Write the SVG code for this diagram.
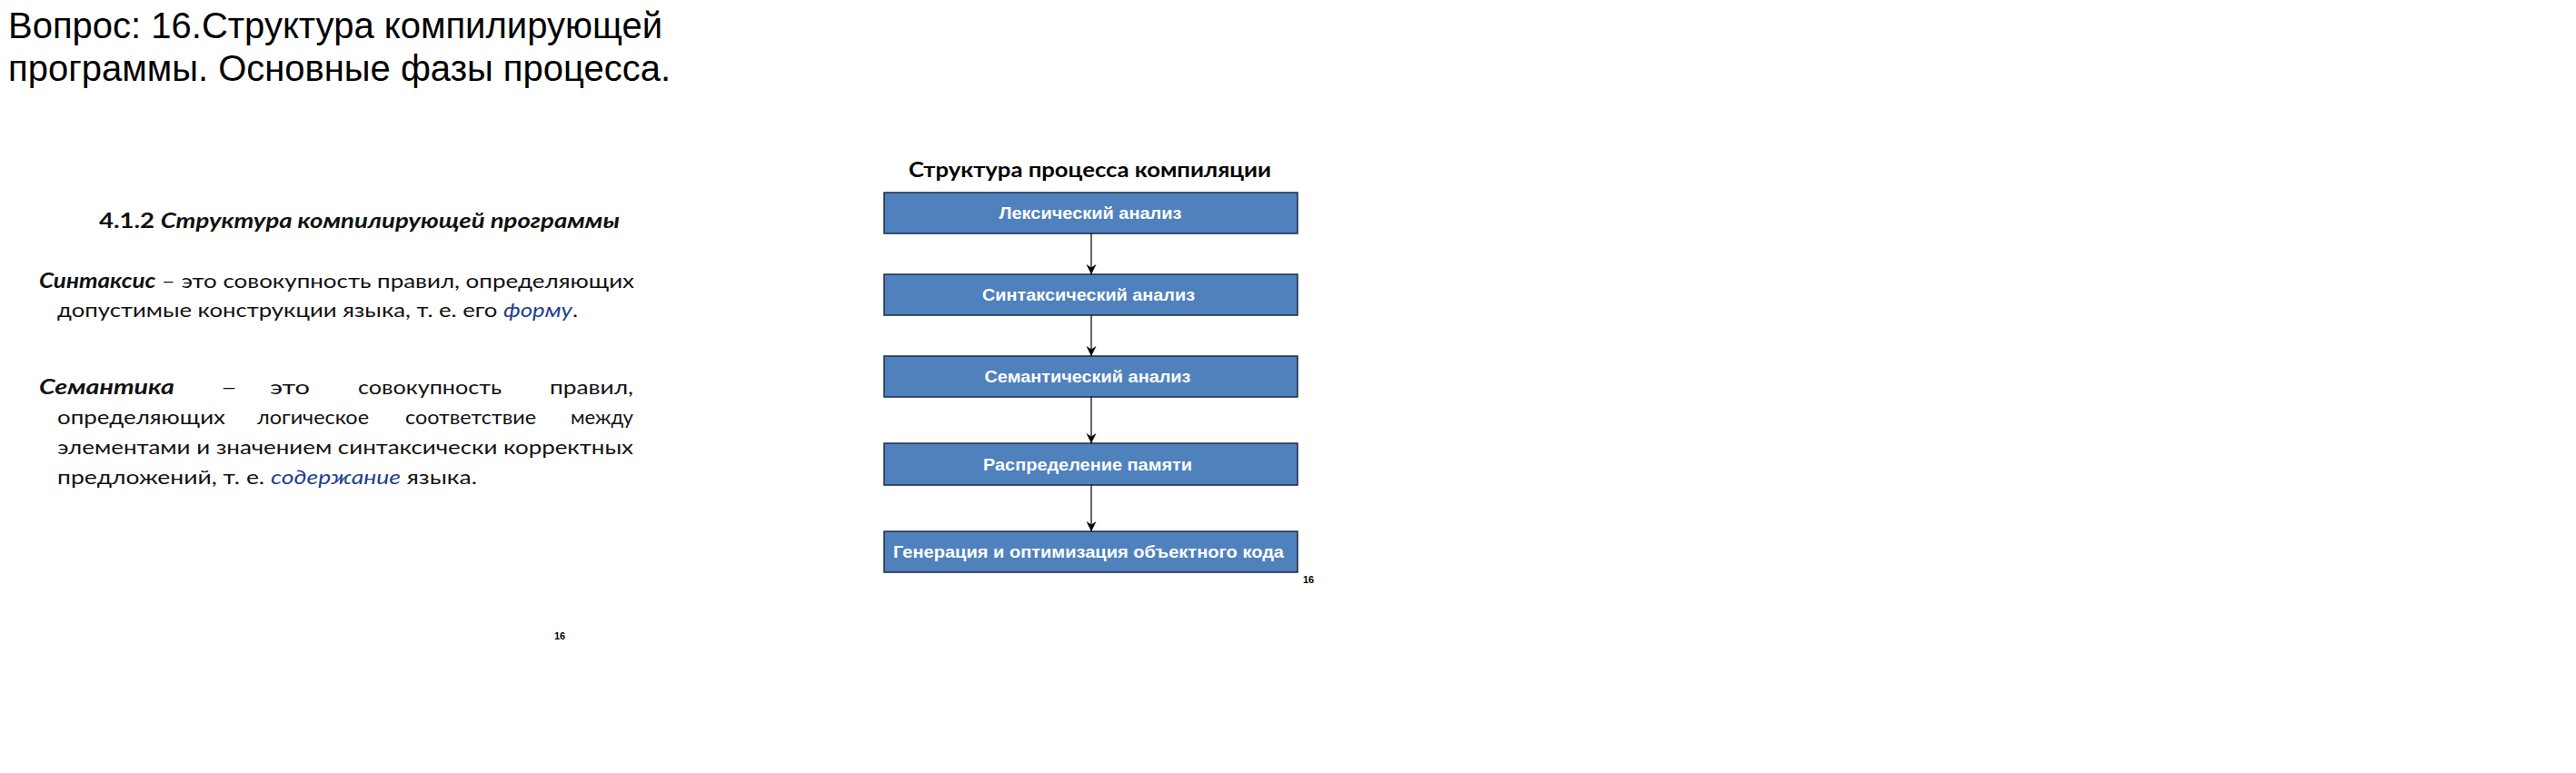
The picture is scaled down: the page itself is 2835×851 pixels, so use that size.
<svg xmlns="http://www.w3.org/2000/svg" width="2835" height="851" viewBox="0 0 2835 851">
<style>
.title{font-family:"Liberation Sans",Arial,sans-serif;font-size:40px;fill:#000}
.body{font-family:Lato,"Open Sans",sans-serif;font-size:22px;fill:#111}
.bi{font-weight:bold;font-style:italic}
.b{font-weight:bold}
.link{font-style:italic;fill:#1f3f8f}
.dtitle{font-family:Lato,"Open Sans",sans-serif;font-size:23px;font-weight:bold;fill:#000}
.box{fill:#4f81bd;stroke:#1c2b45;stroke-width:1.5}
.lbl{font-family:"Liberation Sans",Arial,sans-serif;font-size:18px;font-weight:bold;fill:#fff;text-anchor:middle}
.pn{font-family:"Liberation Sans",Arial,sans-serif;font-size:11px;font-weight:bold;fill:#000}
.conn{stroke:#000;stroke-width:1.2;fill:none}
</style>
<defs>
<marker id="arr" markerUnits="userSpaceOnUse" markerWidth="12" markerHeight="12" refX="11" refY="6" orient="auto" viewBox="0 0 12 12">
<path d="M0,0.5 L11,6 L0,11.5 L3.5,6 Z" fill="#000"/>
</marker>
</defs>
<rect width="2835" height="851" fill="#fff"/>

<g id="page-title">
<text class="title" x="9" y="42" textLength="720" lengthAdjust="spacingAndGlyphs">Вопрос: 16.Структура компилирующей</text>
<text class="title" x="9" y="89" textLength="729" lengthAdjust="spacingAndGlyphs">программы. Основные фазы процесса.</text>
</g>

<g id="left-text">
<text class="body" x="109" y="251" textLength="573" lengthAdjust="spacingAndGlyphs"><tspan class="b">4.1.2 </tspan><tspan class="bi">Структура компилирующей программы</tspan></text>
<text class="body" x="43" y="317" textLength="655" lengthAdjust="spacingAndGlyphs"><tspan class="bi">Синтаксис</tspan> – это совокупность правил, определяющих</text>
<text class="body" x="63" y="349" textLength="573" lengthAdjust="spacingAndGlyphs">допустимые конструкции языка, т. е. его <tspan class="link">форму</tspan>.</text>

<text class="body bi" x="43" y="434" textLength="149" lengthAdjust="spacingAndGlyphs">Семантика</text>
<text class="body" x="243" y="434" textLength="18" lengthAdjust="spacingAndGlyphs">–</text>
<text class="body" x="297" y="434" textLength="44" lengthAdjust="spacingAndGlyphs">это</text>
<text class="body" x="394" y="434" textLength="158" lengthAdjust="spacingAndGlyphs">совокупность</text>
<text class="body" x="605" y="434" textLength="92" lengthAdjust="spacingAndGlyphs">правил,</text>

<text class="body" x="63" y="467" textLength="185" lengthAdjust="spacingAndGlyphs">определяющих</text>
<text class="body" x="283" y="467" textLength="123" lengthAdjust="spacingAndGlyphs">логическое</text>
<text class="body" x="446" y="467" textLength="144" lengthAdjust="spacingAndGlyphs">соответствие</text>
<text class="body" x="628" y="467" textLength="69" lengthAdjust="spacingAndGlyphs">между</text>

<text class="body" x="63" y="500" textLength="634" lengthAdjust="spacingAndGlyphs">элементами и значением синтаксически корректных</text>
<text class="body" x="63" y="533" textLength="462" lengthAdjust="spacingAndGlyphs">предложений, т. е. <tspan class="link">содержание</tspan> языка.</text>
<text class="pn" x="610" y="704">16</text>
</g>

<g id="diagram-title">
<text class="dtitle" x="1000" y="195" textLength="399" lengthAdjust="spacingAndGlyphs">Структура процесса компиляции</text>
</g>

<g id="n1">
<rect class="box" x="973" y="212" width="455" height="45"/>
<text class="lbl" x="1200" y="241" textLength="201" lengthAdjust="spacingAndGlyphs">Лексический анализ</text>
</g>
<g id="n2">
<rect class="box" x="973" y="302" width="455" height="45"/>
<text class="lbl" x="1198" y="331" textLength="234" lengthAdjust="spacingAndGlyphs">Синтаксический анализ</text>
</g>
<g id="n3">
<rect class="box" x="973" y="392" width="455" height="45"/>
<text class="lbl" x="1197" y="421" textLength="227" lengthAdjust="spacingAndGlyphs">Семантический анализ</text>
</g>
<g id="n4">
<rect class="box" x="973" y="488" width="455" height="46"/>
<text class="lbl" x="1197" y="517.5" textLength="230" lengthAdjust="spacingAndGlyphs">Распределение памяти</text>
</g>
<g id="n5">
<rect class="box" x="973" y="585" width="455" height="45"/>
<text class="lbl" x="1198" y="614" textLength="430" lengthAdjust="spacingAndGlyphs">Генерация и оптимизация объектного кода</text>
</g>

<g id="connectors">
<line class="conn" x1="1201" y1="257" x2="1201" y2="302" marker-end="url(#arr)"/>
<line class="conn" x1="1201" y1="347" x2="1201" y2="392" marker-end="url(#arr)"/>
<line class="conn" x1="1201" y1="437" x2="1201" y2="488" marker-end="url(#arr)"/>
<line class="conn" x1="1201" y1="534" x2="1201" y2="585" marker-end="url(#arr)"/>
</g>

<g id="page-number">
<text class="pn" x="1434" y="642">16</text>
</g>
</svg>
